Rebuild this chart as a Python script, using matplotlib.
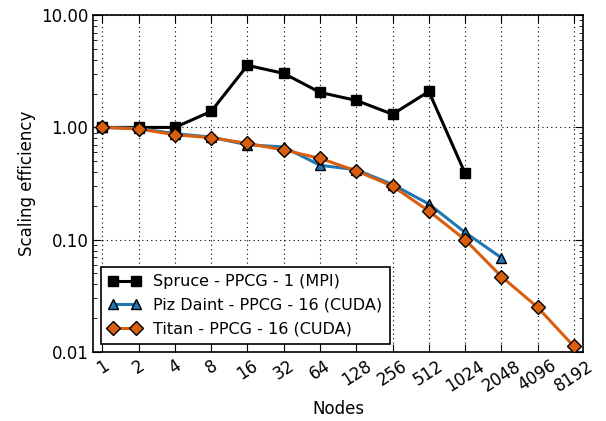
import numpy as np
import matplotlib
matplotlib.use('Agg')
import matplotlib.pyplot as plt
from matplotlib.ticker import FixedLocator, FormatStrFormatter

nodes = [1, 2, 4, 8, 16, 32, 64, 128, 256, 512, 1024, 2048, 4096, 8192]

spruce = [1.0, 1.0, 1.0, 1.39, 3.57, 3.03, 2.05, 1.74, 1.31, 2.09, 0.39]
piz_daint = [1.0, 0.98, 0.88, 0.82, 0.70, 0.67, 0.46, 0.42, 0.31, 0.208, 0.116, 0.069]
titan = [1.0, 0.97, 0.86, 0.81, 0.72, 0.63, 0.53, 0.41, 0.30, 0.18, 0.10, 0.047, 0.025, 0.0112]

plt.rcParams['font.family'] = 'DejaVu Sans'
fig = plt.figure(figsize=(6.06, 4.21), dpi=100)
ax = fig.add_axes([0.154, 0.164, 0.808, 0.8])

x = np.log2(nodes)
ax.plot(x[:len(spruce)], spruce, '-s', color='black', lw=2.2, ms=7,
        mec='black', mew=1, label='Spruce - PPCG - 1 (MPI)', zorder=3)
ax.plot(x[:len(piz_daint)], piz_daint, '-^', color='#1f77b4', lw=2.2, ms=7.5,
        mec='black', mew=1, label='Piz Daint - PPCG - 16 (CUDA)', zorder=3)
ax.plot(x[:len(titan)], titan, '-D', color='#d95f0e', lw=2.2, ms=7,
        mec='black', mew=1, label='Titan - PPCG - 16 (CUDA)', zorder=3)

ax.set_yscale('log')
ax.set_ylim(0.01, 10)
ax.set_xlim(-0.25, 13.25)
ax.set_xticks(x)
ax.set_xticklabels([str(n) for n in nodes], rotation=33, fontsize=12)
ax.yaxis.set_major_locator(FixedLocator([0.01, 0.1, 1, 10]))
ax.yaxis.set_major_formatter(FormatStrFormatter('%.2f'))
ax.tick_params(axis='both', which='both', direction='in', top=True, right=True, labelsize=12)
ax.tick_params(axis='both', which='major', length=6)
ax.tick_params(axis='y', which='minor', length=3)
ax.grid(True, which='major', color='black', linestyle=(0, (1, 3)), lw=0.8)
for s in ax.spines.values():
    s.set_linewidth(1.2)

ax.set_xlabel('Nodes', fontsize=12, labelpad=4)
ax.set_ylabel('Scaling efficiency', fontsize=12)

leg = ax.legend(loc='lower left', numpoints=2, fontsize=11.5, fancybox=False,
                framealpha=1, edgecolor='black', borderaxespad=0.5,
                handlelength=2.0, labelspacing=0.55, borderpad=0.45)
leg.get_frame().set_linewidth(1.2)

fig.savefig('out.png', dpi=100)
